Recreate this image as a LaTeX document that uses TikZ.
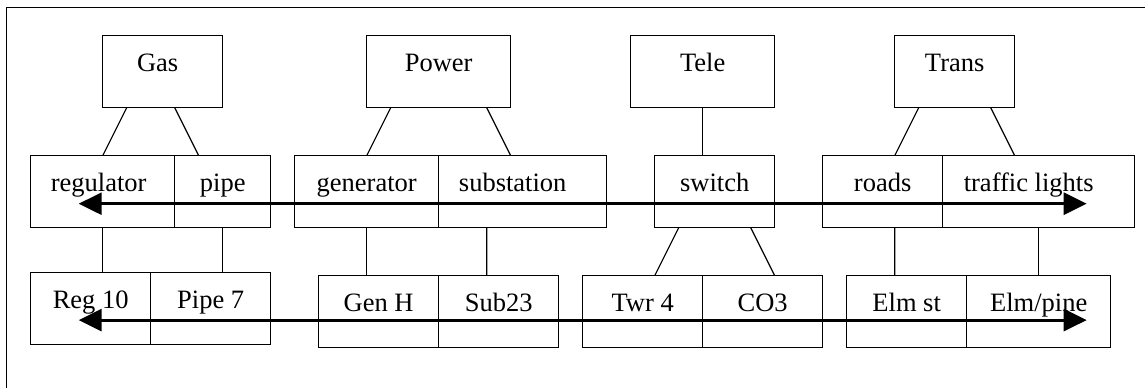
\documentclass[tikz,border=0pt]{standalone}
\usepackage{fontspec}
\setmainfont{Liberation Serif}
\usetikzlibrary{arrows.meta, positioning, calc}

\begin{document}
\begin{tikzpicture}[
			x=12pt, y=12pt,
			line width=0.6pt,
			node distance=0pt,
			every node/.style={draw, rectangle, inner sep=0pt, outer sep=0pt,
				minimum height=36pt, text height=6pt, text depth=6pt,
				font=\fontsize{13.25}{16}\selectfont},
			short/.style={minimum width=60pt},
			long/.style={minimum width=72pt},
			link/.style={{Triangle[length=11.5pt,width=11pt]}-{Triangle[length=11.5pt,width=11pt]}, line width=1.4pt}
			]
			\useasboundingbox (-1.279,1.4875) rectangle (46.43,-14.64);
			\draw[line width=0.65pt] (-1.02,-16) -- (-1.02,1.18) -- (48,1.18);
			
			% Gas
			\node (gas) [short, anchor=north west] at (3,0) {Gas\hspace*{5pt}};
			\node (reg) [long, anchor=north west] at (0,-5) {regulator\hspace*{4pt}};
			\node (pipe) [right=of reg, minimum width=48pt] {pipe};
			\node (reg10) [short, anchor=north west] at (0,-9.85) {Reg 10};
			\node (pipe7) [short, right=of reg10] {Pipe 7};
			
			\draw ($(gas.south west)!.2!(gas.south east)$) -- (reg.north);
			\draw ($(gas.south west)!.6!(gas.south east)$) -- ($(pipe.north west)!.25!(pipe.north east)$);
			\draw (reg.south) -- (reg.south |- reg10.north);
			\draw (pipe.south) -- (pipe.south |- pipe7.north);
			
			% Power
			\node (power) [long, anchor=north west] at (14,0) {Power};
			\node (gen) [long, anchor=north west] at (11,-5) {generator};
			\node (sub) [right=of gen, minimum width=84pt] {substation\hspace*{10pt}};
			\node (genH) [short, anchor=north west] at (12,-10) {Gen H};
			\node (sub23) [short, right=of genH] {Sub23};
			
			\draw ($(power.south west)!.1667!(power.south east)$) -- (gen.north);
			\draw ($(power.south west)!.8333!(power.south east)$) -- ($(sub.north west)!.4286!(sub.north east)$);
			\draw (gen.south) -- (gen.south |- genH.north);
			\draw ($(sub.south west)!.2857!(sub.south east)$) -- ($(sub23.north west)!.4!(sub23.north east)$);
			
			% Tele
			\node (tele) [long, anchor=north west] at (25,0) {Tele};
			\node (switch) [short, anchor=north west] at (26,-5) {switch};
			\node (twr4) [short, anchor=north west] at (23,-10) {Twr 4};
			\node (co3) [short, right=of twr4] {CO3};
			
			\draw (tele.south) -- (tele.south |- switch.north);
			\draw ($(switch.south west)!.2!(switch.south east)$) -- ($(twr4.north west)!.6!(twr4.north east)$);
			\draw ($(switch.south west)!.8!(switch.south east)$) -- ($(co3.north west)!.6!(co3.north east)$);
			
			% Trans
			\node (trans) [short, anchor=north west] at (36,0) {Trans};
			\node (roads) [short, anchor=north west] at (33,-5) {roads};
			\node (lights) [right=of roads, minimum width=96pt] {traffic lights\hspace*{10pt}};
			\node (elmst) [short, anchor=north west] at (34,-10) {Elm st};
			\node (elmpine) [long, right=of elmst] {Elm/pine};
			
			\draw ($(trans.south west)!.2!(trans.south east)$) -- ($(roads.north west)!.6!(roads.north east)$);
			\draw ($(trans.south west)!.8!(trans.south east)$) -- ($(lights.north west)!.375!(lights.north east)$);
			\draw ($(roads.south west)!.6!(roads.south east)$) -- ($(elmst.north west)!.4!(elmst.north east)$);
			\draw (lights.south) -- (elmpine.north);
			
			% paths across the networks
			\coordinate (upL) at ($(reg.south west)!.3333!(reg.south east) + (0,1)$);
			\coordinate (upR) at ($(lights.south west)!.75!(lights.south east)$);
			\draw[link] (upL) -- (upL -| upR);
			\coordinate (lowL) at ($(reg10.south west)!.4!(reg10.south east) + (0,1)$);
			\coordinate (lowR) at ($(elmpine.south west)!.8333!(elmpine.south east)$);
			\draw[link] (lowL) -- (lowL -| lowR);
		\end{tikzpicture}
\end{document}
